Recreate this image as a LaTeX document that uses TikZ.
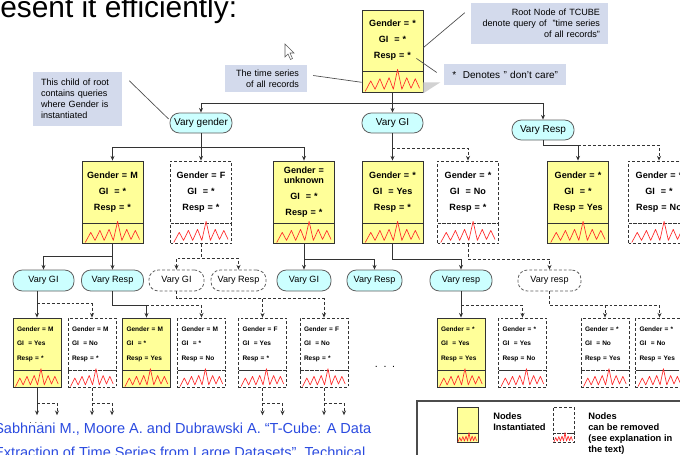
\documentclass[tikz,border=0pt]{standalone}
\usepackage{fontspec}
\setmainfont{Liberation Sans}
\usetikzlibrary{arrows.meta,positioning,calc}
\definecolor{qyel}{HTML}{FFFF99}
\definecolor{pillcyan}{HTML}{CCFFFF}
\definecolor{callblue}{HTML}{D3DAEC}
\definecolor{citeblue}{HTML}{2B4BE0}
\definecolor{edgegray}{HTML}{333333}
\definecolor{zzred}{HTML}{FF2B2B}

\begin{document}
\begin{tikzpicture}[x=0.75pt, y=-0.75pt,
    every node/.style={inner sep=0pt},
    qbig/.style={draw=edgegray, line width=0.6pt, fill=qyel, text width=45.75pt, align=center,
      minimum height=46.5pt, font=\fontsize{6.8}{12}\selectfont\bfseries},
    sbig/.style={draw=edgegray, line width=0.6pt, fill=qyel, minimum width=45.75pt, minimum height=15pt},
    qsmall/.style={draw=edgegray, line width=0.6pt, fill=qyel, text width=30pt, inner xsep=3pt, align=left,
      minimum height=39pt, font=\fontsize{4.9}{10.9}\selectfont\bfseries},
    ssmall/.style={draw=edgegray, line width=0.6pt, fill=qyel, minimum width=36pt, minimum height=12.75pt},
    removed/.style={fill=white, dash pattern=on 2.2pt off 1.5pt},
    pill/.style={draw=gray!75!black, line width=0.6pt, fill=pillcyan, rounded corners=7pt,
      minimum height=15pt, font=\fontsize{7.5}{9}\selectfont},
    pillsm/.style={pill, minimum height=15.75pt, font=\fontsize{6.8}{8}\selectfont},
    callout/.style={fill=callblue, inner xsep=6pt, font=\fontsize{6.8}{8.3}\selectfont},
    calline/.style={draw=gray!60!black, line width=0.5pt},
    legtext/.style={anchor=north west, align=left, font=\fontsize{7}{8.25}\selectfont\bfseries},
    arr/.style={draw=edgegray, line width=0.6pt, -{Stealth[length=3.5pt,width=3pt]}},
    darr/.style={arr, dash pattern=on 2.2pt off 1.5pt},
    series/.pic={\draw[zzred, line width=0.5pt, line join=round] (0.06,0.95) -- (0.15,0.45) -- (0.22,0.85)
      -- (0.30,0.35) -- (0.37,0.85) -- (0.45,0.30) -- (0.52,0.85) -- (0.59,-0.1) -- (0.66,0.85)
      -- (0.74,0.30) -- (0.81,0.80) -- (0.88,0.35) -- (0.95,0.80);}
  ]
  \useasboundingbox (0,0) rectangle (680,454);
  \clip (0,0) rectangle (680,454);
  \fill[white] (0,0) rectangle (680,454);

  % slide text
  \node[anchor=base west, font=\fontsize{22.4}{26}\selectfont] (title) at (0,17) {esent it efficiently:};
  \node[anchor=base west, text=citeblue, font=\fontsize{10.9}{13}\selectfont] (cite1) at (-6,433)
    {Sabhnani M., Moore A. and Dubrawski A. “T-Cube: A Data};
  \node[anchor=base west, text=citeblue, font=\fontsize{10.9}{13}\selectfont] (cite2) at (-6,457)
    {Extraction of Time Series from Large Datasets”, Technical};

  % mouse pointer
  \draw[fill=white, draw=gray!70!black, line width=0.4pt] (285,44) -- (285,57) -- (288,54) -- (290.5,59.5)
    -- (292.5,58.5) -- (290,53) -- (294,53) -- cycle;

  % root
  \node[qbig, minimum height=45.75pt] (root) at (392.5,40.5) {Gender = *\\GI \ = *\\Resp = *};
  \node[sbig, minimum height=15.75pt, below=0pt of root] (root-ts) {};
  \fill[gray!35] (root-ts.east) -- ++(17,0) -- (root-ts.south east) -- cycle;
  \pic[xscale=61, yscale=21] at (root-ts.north west) {series};

  % first split
  \node[pill, minimum width=46.5pt] (vgen) at (201,123) {Vary gender};
  \node[pill, minimum width=45.75pt] (vgi) at (392.5,123) {Vary GI};
  \node[pill, minimum width=46.5pt] (vresp) at (543,130) {Vary Resp};

  % second level
  \foreach \nm/\x/\txt in {gm/112.5/{Gender = M\\GI \ = *\\Resp = *},
      gu/304/{Gender =\\[-4pt]unknown\\GI \ = *\\Resp = *},
      giy/392.5/{Gender = *\\GI \ = Yes\\Resp = *},
      ry/578/{Gender = *\\GI \ = *\\Resp = Yes}} {
    \node[qbig] (\nm) at (\x,192) {\txt};
    \node[sbig, below=0pt of \nm] (\nm-ts) {};
    \pic[xscale=61, yscale=20] at (\nm-ts.north west) {series};
  }
  \foreach \nm/\x/\txt in {gf/201/{Gender = F\\GI \ = *\\Resp = *},
      gin/468/{Gender = *\\GI \ = No\\Resp = *},
      rn/659/{Gender = *\\GI \ = *\\Resp = No}} {
    \node[qbig, removed] (\nm) at (\x,192) {\txt};
    \node[sbig, removed, below=0pt of \nm] (\nm-ts) {};
    \pic[xscale=61, yscale=20] at (\nm-ts.north west) {series};
  }

  \draw[arr] (root-ts.south) -- (vgi.north);
  \draw[arr] (root-ts.south) -- ++(0,10) -| (vgen.north);
  \draw[arr] (root-ts.south) -- ++(0,10) -| (vresp.north);
  \draw[arr] (vgen.south) -- (gf.north);
  \draw[arr] (vgen.south) -- ++(0,14) -| (gm.north);
  \draw[arr] (vgen.south) -- ++(0,14) -| (gu.north);
  \draw[arr] (vgi.south) -- (giy.north);
  \draw[darr] ($(vgi.south)+(0,15)$) -| (gin.north);
  \draw[arr] (vresp.south) -- ++(0,5) coordinate (vr) -| (ry.north);
  \draw[darr] (vr -| ry.north) -| (rn.north);

  % third level
  \node[pillsm, minimum width=45.75pt] (vgi1) at (43.5,280.5) {Vary GI};
  \node[pillsm, minimum width=46.5pt] (vresp1) at (112.5,280.5) {Vary Resp};
  \node[pillsm, removed, minimum width=41.25pt] (vgi2) at (176.5,280.5) {Vary GI};
  \node[pillsm, removed, minimum width=41.25pt] (vresp2) at (238.5,280.5) {Vary Resp};
  \node[pillsm, minimum width=40.5pt] (vgi3) at (304,280.5) {Vary GI};
  \node[pillsm, minimum width=41.25pt] (vresp3) at (374.5,280.5) {Vary Resp};
  \node[pillsm, minimum width=46.5pt] (vresp4) at (461,280.5) {Vary resp};
  \node[pillsm, removed, minimum width=47.25pt] (vresp5) at (549.5,280.5) {Vary resp};

  \draw[arr] (gm-ts.south) -- (vresp1.north);
  \draw[arr] (gm-ts.south) -- ++(0,12) -| (vgi1.north);
  \draw[darr] (gf-ts.south) -- ++(0,14) -| (vgi2.north);
  \draw[darr] (gf-ts.south) -- ++(0,14) -| (vresp2.north);
  \draw[arr] (gu-ts.south) -- (vgi3.north);
  \draw[arr] (gu-ts.south) -- ++(0,15) -| (vresp3.north);
  \draw[arr] (giy-ts.south) -- ++(0,15) -| (vresp4.north);
  \draw[darr] (gin-ts.south) -- ++(0,15) -| (vresp5.north);

  % fourth level
  \foreach \nm/\x/\txt in {n1/37/{Gender = M\\GI \ = Yes\\Resp = *},
      n3/146.5/{Gender = M\\GI \ = *\\Resp = Yes},
      n7/461/{Gender = *\\GI \ = Yes\\Resp = Yes}} {
    \node[qsmall] (\nm) at (\x,344) {\txt};
    \node[ssmall, below=0pt of \nm] (\nm-ts) {};
    \pic[xscale=48, yscale=17] at (\nm-ts.north west) {series};
  }
  \foreach \nm/\x/\txt in {n2/92/{Gender = M\\GI \ = No\\Resp = *},
      n4/201.5/{Gender = M\\GI \ = *\\Resp = No},
      n5/262.5/{Gender = F\\GI \ = Yes\\Resp = *},
      n6/324/{Gender = F\\GI \ = No\\Resp = *},
      n8/522.5/{Gender = *\\GI \ = Yes\\Resp = No},
      n9/605/{Gender = *\\GI \ = No\\Resp = Yes},
      n10/659.5/{Gender = *\\GI \ = No\\Resp = Yes}} {
    \node[qsmall, removed] (\nm) at (\x,344) {\txt};
    \node[ssmall, removed, below=0pt of \nm] (\nm-ts) {};
    \pic[xscale=48, yscale=17] at (\nm-ts.north west) {series};
  }

  \draw[arr] (vgi1.south -| n1.north) -- (n1.north);
  \draw[darr] ($(vgi1.south -| n1.north)+(0,12)$) -| (n2.north);
  \draw[arr] (vresp1.south) -- ++(0,14) coordinate (c1) -| (n3.north);
  \draw[darr] (c1 -| n3.north) -| (n4.north);
  \draw[darr] (vgi2.south) -- ++(0,7) -| (n5.north);
  \draw[darr] (vgi2.south) -- ++(0,7) -| (n6.north);
  \draw[arr] (vresp4.south) -- (n7.north);
  \draw[darr] ($(vresp4.south)+(0,14)$) -| (n8.north);
  \draw[darr] (vresp5.south) -- ++(0,14) -| (n9.north);
  \draw[darr] (vresp5.south) -- ++(0,14) -| (n10.north);

  % further splits
  \draw[arr] (n1-ts.south) -- ++(0,27);
  \draw[darr] ($(n1-ts.south)+(0,15)$) -- ++(20,0) -- ++(0,12);
  \foreach \nm in {n2,n5,n6} {
    \draw[darr] (\nm-ts.south) -- ++(0,27);
    \draw[darr] ($(\nm-ts.south)+(0,15)$) -- ++(20,0) -- ++(0,12);
  }
  \node[font=\fontsize{8}{8}\selectfont] (more) at (385,367) {. \,. \,.};
  \node[font=\fontsize{6}{6}\selectfont] (more2) at (36,423) {. . .};

  % callouts
  \node[callout, text width=54.75pt, minimum height=40.5pt, align=left] (ccall) at (77.5,99)
    {This child of root\\contains queries\\where Gender is\\instantiated};
  \node[callout, text width=49.5pt, minimum height=20.25pt, align=right] (tcall) at (266,78.5)
    {The time series\\of all records};
  \node[callout, text width=90.75pt, minimum height=30.75pt, align=right] (rcall) at (539.5,23.5)
    {Root Node of TCUBE\\denote query of \ "time series\\of all records"};
  \node[callout, text width=79.5pt, minimum height=15.75pt, align=right, font=\fontsize{7.5}{9}\selectfont]
    (dcall) at (505,74.5) {*\ \ Denotes " don't care"};
  \draw[calline] ($(ccall.north east)+(7,9)$) -- ($(vgen.west)+(-1,-4)$);
  \draw[calline] ($(tcall.east)+(6,-3)$) -- (root-ts.west);
  \draw[calline] ($(rcall.north west)+(-6,10)$) -- ($(root.north east)+(0,38)$);
  \draw[calline] ($(dcall.west)+(-7,-2)$) -- ($(root.south east)+(-7,-13)$);

  % legend
  \node[draw=gray!60!black, line width=0.8pt, minimum width=204.75pt, minimum height=44.25pt] (legend)
    at (553.5,430.5) {};
  \node[ssmall, minimum width=15.75pt, minimum height=19.5pt] (lgy) at (467.5,420) {};
  \node[ssmall, minimum width=15.75pt, minimum height=6.75pt, below=0pt of lgy] (lgy-ts) {};
  \pic[xscale=21, yscale=9] at (lgy-ts.north west) {series};
  \node[ssmall, removed, minimum width=15.75pt, minimum height=19.5pt] (lgr) at (563.5,420) {};
  \node[ssmall, removed, minimum width=15.75pt, minimum height=6.75pt, below=0pt of lgr] (lgr-ts) {};
  \pic[xscale=21, yscale=9] at (lgr-ts.north west) {series};
  \node[legtext] (lgytxt) at (493,412) {Nodes\\Instantiated};
  \node[legtext] (lgrtxt) at (588,412) {Nodes\\can be removed\\(see explanation in\\the text)};
\end{tikzpicture}
\end{document}
